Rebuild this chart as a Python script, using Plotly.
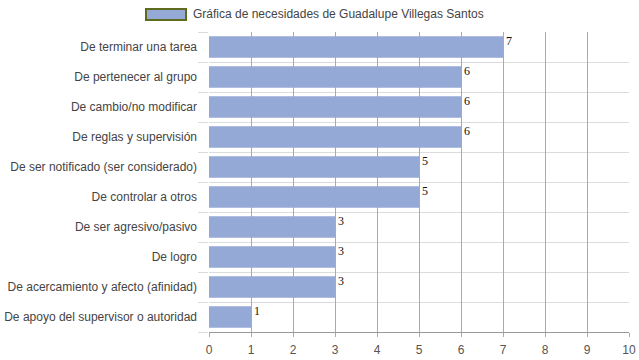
import plotly.graph_objects as go

categories = [
    "De terminar una tarea",
    "De pertenecer al grupo",
    "De cambio/no modificar",
    "De reglas y supervisión",
    "De ser notificado (ser considerado)",
    "De controlar a otros",
    "De ser agresivo/pasivo",
    "De logro",
    "De acercamiento y afecto (afinidad)",
    "De apoyo del supervisor o autoridad",
]
values = [7, 6, 6, 6, 5, 5, 3, 3, 3, 1]
series_name = "Gráfica de necesidades de Guadalupe Villegas Santos"
x_ticks = list(range(0, 11))

n = len(categories)
ypos = list(range(n - 1, -1, -1))  # first category on top

BAR = "#94a9d6"

fig = go.Figure()
fig.add_trace(go.Bar(
    x=values, y=ypos, orientation="h", width=0.72,
    marker=dict(color=BAR, line=dict(width=0)),
    name=series_name, showlegend=False, hoverinfo="x+text",
    hovertext=categories,
))

for v, y in zip(values, ypos):
    fig.add_annotation(
        x=v, y=y + 0.5, xref="x", yref="y", text=str(v), showarrow=False,
        xanchor="left", yanchor="top", xshift=1,
        font=dict(family="Liberation Serif, Times New Roman, serif", size=12, color="#111"),
    )

# manual legend
fig.add_shape(type="rect", xref="paper", yref="paper",
              x0=(146 - 209) / 420, x1=(186 - 209) / 420,
              y0=1 + (32 - 20) / 300, y1=1 + (32 - 9) / 300,
              fillcolor=BAR, line=dict(color="#5e6b1e", width=2))
fig.add_annotation(xref="paper", yref="paper", x=(191 - 209) / 420, y=1 + (32 - 14.5) / 300,
                   text=series_name, showarrow=False, xanchor="left", yanchor="middle",
                   font=dict(family="Liberation Sans, Arial, sans-serif", size=12, color="#444"))

fig.update_layout(
    width=639, height=360,
    margin=dict(l=209, r=10, t=32, b=28, autoexpand=False),
    plot_bgcolor="white", paper_bgcolor="white",
    font=dict(family="Liberation Sans, Arial, sans-serif", size=12, color="#444"),
    xaxis=dict(
        range=[0, 10], tickvals=x_ticks, ticktext=[str(t) for t in x_ticks],
        showgrid=True, gridcolor="#aaaaaa", gridwidth=1,
        showline=True, linecolor="#999", linewidth=1,
        ticks="outside", ticklen=4, tickcolor="#aaaaaa", ticklabelstandoff=3,
        zeroline=False, tickfont=dict(size=12, color="#555"),
        automargin=False, fixedrange=True,
    ),
    yaxis=dict(
        range=[-0.5, n - 0.5], tickvals=ypos, ticktext=categories,
        showgrid=False, zeroline=False, showline=False,
        ticks="", ticklabelstandoff=11,
        minor=dict(tick0=0.5, dtick=1, showgrid=True, gridcolor="#dcdcdc",
                   gridwidth=1, ticks="outside", ticklen=10, tickcolor="#dcdcdc"),
        tickfont=dict(size=12, color="#444"),
        automargin=False, fixedrange=True,
    ),
)

fig.write_html(
    "out.html",
    config={"displayModeBar": False},
    post_script="document.body.style.margin='0';document.body.style.overflow='hidden';",
)
